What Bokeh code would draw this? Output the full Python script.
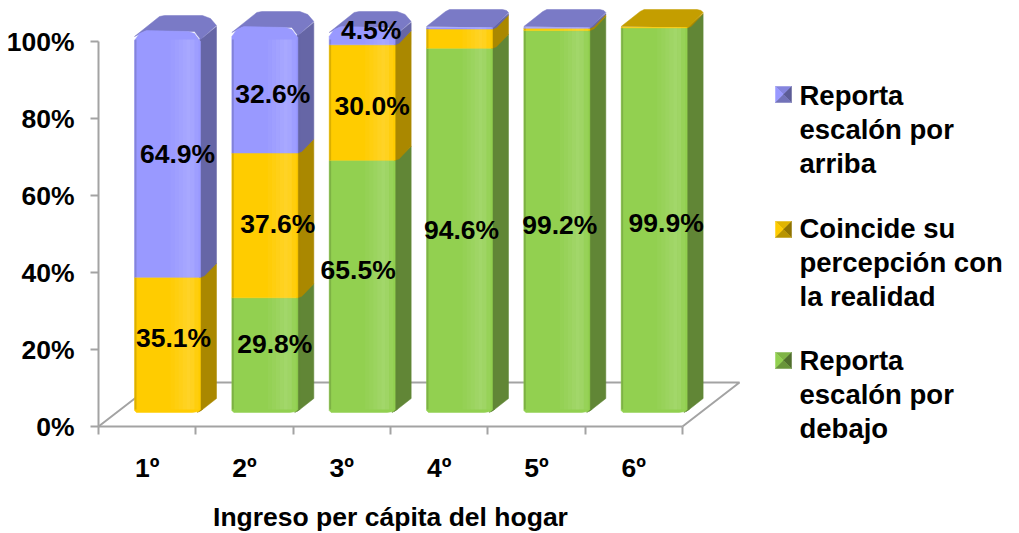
from bokeh.plotting import figure
from bokeh.models import Range1d, FixedTicker
from bokeh.core.properties import value
from bokeh.embed import file_html
from bokeh.resources import INLINE

categories = ["1º", "2º", "3º", "4º", "5º", "6º"]
below = [0.0, 29.8, 65.5, 94.6, 99.2, 99.9]
match = [35.1, 37.6, 30.0, 5.0, 0.6, 0.1]
above = [64.9, 32.6, 4.5, 0.4, 0.2, 0.0]
series_names = [["Reporta", "escalón por", "arriba"],
                ["Coincide su", "percepción con", "la realidad"],
                ["Reporta", "escalón por", "debajo"]]
y_ticks = [0, 20, 40, 60, 80, 100]
x_title = "Ingreso per cápita del hogar"

# layout (pixels of the page)
PX_X, PX_Y = 97.33, 3.85          # pixels per category, pixels per percent
AX_L, AX_B = 98, 426
FONT = value("Liberation Sans")
GREY = "#A3A3A3"
C_GREEN = ("#92D050", "#618636", "#7FB446")
C_GOLD = ("#FFCC00", "#AA8800", "#C49E00")
C_PURP = ("#9999FF", "#6666A6", "#7A7AC6")

W = 1019
H = 533
p = figure(width=W, height=H, output_backend="svg", toolbar_location=None,
           x_range=Range1d(-AX_L / PX_X, (W - AX_L) / PX_X),
           y_range=Range1d((AX_B - H) / PX_Y, AX_B / PX_Y),
           min_border_left=0, min_border_right=0,
           min_border_top=0, min_border_bottom=0,
           background_fill_color="white", border_fill_color="white")
p.outline_line_color = None
p.grid.visible = False

xa = p.xaxis[0]
xa.fixed_location = 0
xa.ticker = FixedTicker(ticks=[i + 0.5 for i in range(6)], minor_ticks=list(range(7)))
xa.major_label_overrides = {i + 0.5: c for i, c in enumerate(categories)}
xa.bounds = (0, 6)
xa.axis_line_color = GREY
xa.axis_line_width = 2
xa.major_tick_line_color = None
xa.major_tick_in = 0
xa.major_tick_out = 0
xa.minor_tick_line_color = GREY
xa.minor_tick_line_width = 2
xa.minor_tick_in = 0
xa.minor_tick_out = 8
xa.major_label_text_font = "Liberation Sans"
xa.major_label_text_font_style = "bold"
xa.major_label_text_font_size = "26.5px"
xa.major_label_text_color = "black"
xa.major_label_standoff = 18
xa.axis_label = x_title
xa.axis_label_text_font = "Liberation Sans"
xa.axis_label_text_font_style = "bold"
xa.axis_label_text_font_size = "26.5px"
xa.axis_label_text_color = "black"
xa.axis_label_standoff = 16

ya = p.yaxis[0]
ya.fixed_location = 0
ya.ticker = FixedTicker(ticks=y_ticks, minor_ticks=[])
ya.major_label_overrides = {v: f"{v}%" for v in y_ticks}
ya.bounds = (0, 100)
ya.axis_line_color = GREY
ya.axis_line_width = 2
ya.major_tick_line_color = GREY
ya.major_tick_line_width = 2
ya.major_tick_in = 0
ya.major_tick_out = 8
ya.major_label_standoff = 16
ya.major_label_text_font = "Liberation Sans"
ya.major_label_text_font_style = "bold"
ya.major_label_text_font_size = "26.5px"
ya.major_label_text_color = "black"


def dx(px):
    return px / PX_X


def dy(px):
    return px / PX_Y


def X(px):
    return (px - AX_L) / PX_X


def Y(px):
    return (AX_B - px) / PX_Y


# floor of the 3D box
floor_dx, floor_dy = dx(57), dy(44)
p.line([0, floor_dx, 6 + floor_dx, 6], [0, floor_dy, floor_dy, 0], line_color=GREY, line_width=2)

BAR_OFF = dx(36)
BAR_W = 66
SIDE = 16
RISE = 14
BASE = dy(14)


def poly(i, v, offs, color):
    x0 = i + BAR_OFF
    y0 = BASE + v
    p.patch([x0 + dx(a) for a, _ in offs], [y0 + dy(b) for _, b in offs],
            fill_color=color, line_color=color, line_width=0.5)


for i in range(6):
    segs = [(below[i], C_GREEN), (match[i], C_GOLD), (above[i], C_PURP)]
    segs = [s for s in segs if s[0] > 0]
    dome = i < 3
    drop = -4 if i == 0 else 0
    v = 0.0
    for k, (h, col) in enumerate(segs):
        vt = v + h
        ph = h * PX_Y
        first, last = k == 0, k == len(segs) - 1
        # side face
        if first:
            bot = [(BAR_W - 3, 0), (BAR_W + 2, 3), (BAR_W + SIDE, RISE)]
        else:
            bot = [(BAR_W, 0), (BAR_W + 4, 1.5), (BAR_W + SIDE, RISE)]
        if last and dome:
            top = [(BAR_W + SIDE, ph + 5 + drop), (BAR_W, ph - 8 + drop)]
        else:
            top = [(BAR_W + SIDE, ph + RISE), (BAR_W, ph)]
        poly(i, v, bot + top, col[1])
        poly(i, v, [(BAR_W - 1, 0 if not first else 1), (BAR_W + 2, 2 if not first else 3),
                    (BAR_W + 2, ph + (2 if not (last and dome) else -6 + drop)),
                    (BAR_W - 1, ph - (0 if not (last and dome) else 8 - drop))], col[1])
        # cap
        if last:
            if dome:
                cap = [(0, -5 + drop), (25, 15 + drop), (30, 16 + drop), (68, 16 + drop),
                       (76, 13 + drop), (82, 6 + drop), (66, -8 + drop), (60, 0 + drop), (10, 0 + drop)]
            else:
                cap = [(0, 1), (19, 16), (23, 18), (76, 18), (80, 17), (82, 15), (67, 0)]
            poly(i, v, [(a, ph + b) for a, b in cap], col[2])
        # front face
        if first:
            lo = [(0, 2), (2, 0), (BAR_W - 8, 0), (BAR_W - 2, 1), (BAR_W, 3)]
        else:
            lo = [(0, 0), (BAR_W, 0)]
        if last and dome:
            hi = [(BAR_W, ph - 10 + drop), (BAR_W - 6, ph - 2 + drop), (BAR_W - 12, ph + drop),
                  (12, ph + 1 + drop), (5, ph - 2 + drop), (0, ph - 9 + drop)]
        else:
            hi = [(BAR_W, ph), (0, ph)]
        poly(i, v, lo + hi, col[0])
        # soft highlight and edge shading of the front
        x0 = i + BAR_OFF
        ya0 = BASE + v + dy(3 if first else 0)
        yb0 = BASE + vt - dy(12 if last and dome else 0)
        if yb0 > ya0:
            for s, a in zip(range(36, 62, 4), (0.03, 0.06, 0.09, 0.12, 0.15, 0.12, 0.05)):
                p.quad(left=x0 + dx(s), right=x0 + dx(s + 4), bottom=ya0, top=yb0,
                       fill_color="white", fill_alpha=a, line_color=None)
            p.quad(left=x0, right=x0 + dx(2), bottom=ya0, top=yb0,
                   fill_color="black", fill_alpha=0.14, line_color=None)
        v = vt

# value labels
label_nudge_below = [0, 11, 16, 0, -3, -3]
label_nudge_match = [7, 1, -3]
label_nudge_above = [-2, -4, 6]
label_shift_below = [0, 10, -4, 2, 3, 12]
label_shift_match = [6, 13, 10]
label_shift_above = [10, 8, 9]
lx, ly, lt = [], [], []
for i in range(6):
    c = i + BAR_OFF + dx(BAR_W / 2)
    if below[i] > 20:
        lx.append(c + dx(label_shift_below[i]))
        ly.append(BASE + below[i] / 2 + dy(label_nudge_below[i]))
        lt.append(f"{below[i]:.1f}%")
    if match[i] > 20:
        lx.append(c + dx(label_shift_match[i]))
        ly.append(BASE + below[i] + match[i] / 2 + dy(label_nudge_match[i]))
        lt.append(f"{match[i]:.1f}%")
    if above[i] > 1:
        lx.append(c + dx(label_shift_above[i]))
        ly.append(BASE + below[i] + match[i] + above[i] / 2 + dy(label_nudge_above[i]))
        lt.append(f"{above[i]:.1f}%")
p.text(lx, ly, text=lt, text_font=FONT, text_font_style="bold", text_font_size="26.5px",
       text_color="black", text_align="center", text_baseline="middle")

# legend
LEG_SHADES = [("#9999FF", "#8585DE", "#5C5C96", "#7272B8"),
              ("#FFCC00", "#E0B400", "#8F7300", "#B89400"),
              ("#92D050", "#7FB446", "#506F2D", "#69953A")]
LEG_BOX_Y = [86, 221, 352]
LEG_TEXT_Y = [95, 228, 360]
LEG_STEP = 34
for names, shade, by, ty in zip(series_names, LEG_SHADES, LEG_BOX_Y, LEG_TEXT_Y):
    l, r, t, b, cx, cy = 775, 791, by, by + 16, 783, by + 8
    tris = [[(l, t), (r, t), (cx, cy)], [(l, t), (l, b), (cx, cy)],
            [(r, t), (r, b), (cx, cy)], [(l, b), (r, b), (cx, cy)]]
    for tri, col in zip(tris, (shade[1], shade[0], shade[2], shade[3])):
        p.patch([X(a) for a, _ in tri], [Y(b_) for _, b_ in tri],
                fill_color=col, line_color=col, line_width=0.5)
    p.text([X(799)] * 3, [Y(ty + LEG_STEP * n) for n in range(3)], text=names, text_font=FONT,
           text_font_style="bold", text_font_size="27.5px", text_color="black",
           text_align="left", text_baseline="middle")

open("out.html", "w").write(file_html(p, INLINE))
